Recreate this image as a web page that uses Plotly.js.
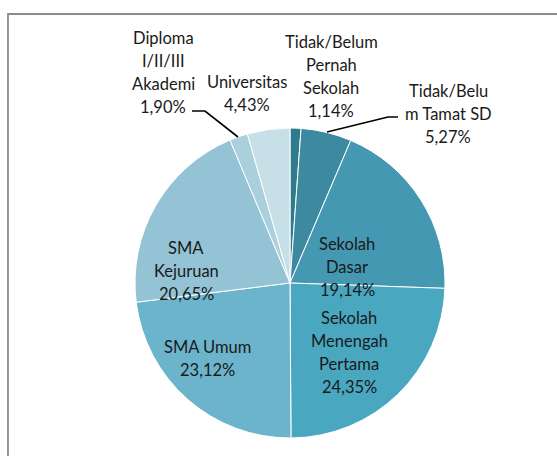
<!DOCTYPE html>
<html>
<head>
<meta charset="utf-8">
<script src="https://cdn.plot.ly/plotly-3.0.1.min.js"></script>
<style>html,body{margin:0;padding:0;background:#fff;}#chart{width:557px;height:456px;}</style>
</head>
<body>
<div id="chart"></div>
<script>
// Data
var categories = ["Tidak/Belum Pernah Sekolah", "Tidak/Belum Tamat SD", "Sekolah Dasar", "Sekolah Menengah Pertama", "SMA Umum", "SMA Kejuruan", "Diploma I/II/III Akademi", "Universitas"];
var labelLines = [["Tidak/Belum", "Pernah", "Sekolah"], ["Tidak/Belu", "m Tamat SD"], ["Sekolah", "Dasar"], ["Sekolah", "Menengah", "Pertama"], ["SMA Umum"], ["SMA", "Kejuruan"], ["Diploma", "I/II/III", "Akademi"], ["Universitas"]];
var values = [1.14, 5.27, 19.14, 24.35, 23.12, 20.65, 1.90, 4.43];
var colors = ["#2F7B8D", "#3D89A0", "#4498B1", "#49A7C0", "#6BB4CB", "#93C3D4", "#A9D0DC", "#C7DFE7"];

// Layout helpers (pixel positions of label centres: x, y of first line)
var W = 557, H = 456;
var labelPos = [[331, 42], [448, 91], [347, 244], [349, 318], [207, 347], [186, 248], [163, 38], [247, 82]];
var leaderLines = [[[398, 117], [388, 117], [327, 132]], [[192, 111], [205, 111], [238, 137]]];
var pieCenter = [290, 283], pieR = 155;

function px(x) { return x / W; }
function py(y) { return 1 - y / H; }
function fmt(v) { return v.toFixed(2).replace(".", ",") + "%"; }

var LH = 23;
var annotations = [];
categories.forEach(function (c, i) {
  var lines = labelLines[i].concat([fmt(values[i])]);
  lines.forEach(function (t, j) {
    annotations.push({
      xref: "paper", yref: "paper",
      x: px(labelPos[i][0]), y: py(labelPos[i][1] + j * LH),
      xanchor: "center", yanchor: "middle",
      text: t, showarrow: false,
      font: {family: "Lato, 'Open Sans', sans-serif", size: 16.5, color: "#1a1a1a"}
    });
  });
});

var shapes = [{
  type: "rect", xref: "paper", yref: "paper",
  x0: px(8), x1: px(620), y0: py(520), y1: py(14),
  line: {color: "#8c8c8c", width: 1.8}, fillcolor: "rgba(0,0,0,0)", layer: "below"
}];
leaderLines.forEach(function (pts) {
  var d = pts.map(function (p, k) { return (k ? "L" : "M") + px(p[0]) + "," + py(p[1]); }).join(" ");
  shapes.push({type: "path", xref: "paper", yref: "paper", path: d, line: {color: "#000", width: 1.6}});
});

var trace = {
  type: "pie",
  labels: categories,
  values: values,
  sort: false,
  direction: "clockwise",
  rotation: 0,
  textinfo: "none",
  hoverinfo: "label+percent",
  marker: {colors: colors, line: {color: "#ffffff", width: 1}},
  domain: {x: [px(pieCenter[0] - pieR), px(pieCenter[0] + pieR)], y: [py(pieCenter[1] + pieR), py(pieCenter[1] - pieR)]},
  showlegend: false
};

var layout = {
  width: W, height: H,
  margin: {l: 0, r: 0, t: 0, b: 0},
  paper_bgcolor: "#ffffff",
  showlegend: false,
  annotations: annotations,
  shapes: shapes
};

Plotly.newPlot("chart", [trace], layout, {staticPlot: true});
</script>
</body>
</html>
